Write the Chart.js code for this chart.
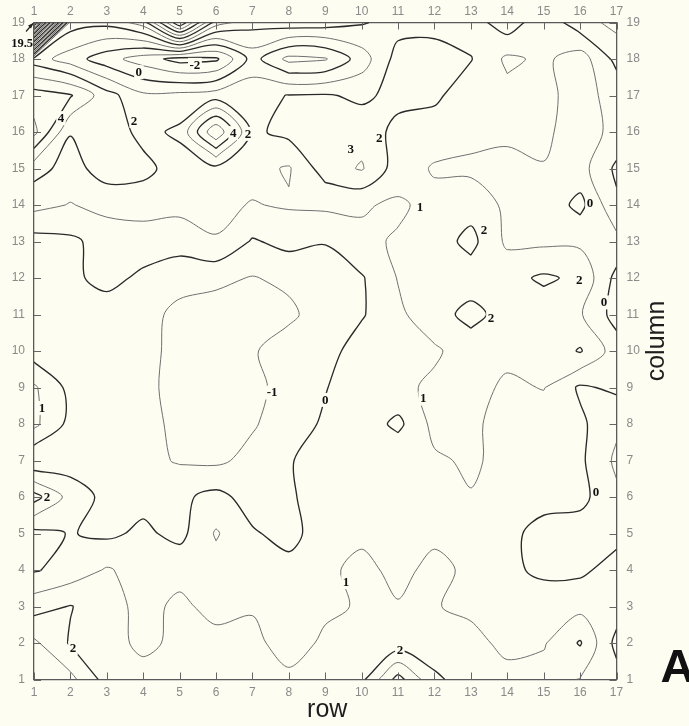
<!DOCTYPE html>
<html>
<head>
<meta charset="utf-8">
<script src="https://cdn.jsdelivr.net/npm/chart.js@4.4.1/dist/chart.umd.min.js"></script>
<style>
  html, body { margin: 0; padding: 0; background: #fefdf2; }
  #wrap { width: 689px; height: 726px; position: relative; }
  canvas { display: block; }
</style>
</head>
<body>
<div id="wrap"><canvas id="chart" width="689" height="726"></canvas></div>
<script>
// Sampling grid: rows run along x, columns along y.
const rows = [1, 2, 3, 4, 5, 6, 7, 8, 9, 10, 11, 12, 13, 14, 15, 16, 17];
const columns = [1, 2, 3, 4, 5, 6, 7, 8, 9, 10, 11, 12, 13, 14, 15, 16, 17, 18, 19];

// Measured field, one array per column, values for rows 1..17.
const col1  = [3.8, 3.3, 1.6, 1.5, 1.5, 1.4, 1.4, 1.25, 1.4, 1.75, 4.4, 2.2, 1.5, 1.3, 1.4, 0.95, 0.4];
const col2  = [3.2, 1.9, 1.5, 0.7, 1.3, 1.3, 1.3, 0.5, 1.2, 1.4, 1.4, 1.4, 1.3, 0.75, 0.9, 2.1, -0.3];
const col3  = [1.6, 2.05, 1.4, 0.7, 1.2, 0.7, 0.9, 0.4, 0.8, 1.1, 1.1, 1.05, 0.8, 0.6, 0.8, 0.7, 0.5];
const col4  = [-0.1, 0.4, 1.1, 0.6, 0.7, 0.6, 0.6, 0.3, 0.7, 1.4, 0.6, 1.4, 0.7, 0.3, -0.3, -0.2, 0.4];
const col5  = [-0.3, 0.05, -0.2, 0.2, -0.3, 1.1, 0.1, -0.3, 0.5, 0.7, 0.6, 0.7, 0.6, 0.3, -0.4, -0.5, -0.3];
const col6  = [2.4, 0.6, -0.3, -0.3, -0.2, 0.3, -0.4, -0.2, 0.7, 0.6, 0.7, 0.7, 0.95, 0.6, 0.4, 0.3, -0.8];
const col7  = [-0.9, -0.5, -0.6, -0.7, -1.1, -1.2, -0.7, -0.1, 0.6, 0.7, 0.8, 0.85, 1.15, 0.7, 0.5, 0.2, -1.2];
const col8  = [1.25, -0.3, -0.6, -0.6, -1.3, -1.05, -1.1, -0.5, 0.15, 0.6, -0.25, 1.3, 1.2, 0.6, 0.4, 0.2, -0.8];
const col9  = [1.15, -0.3, -0.6, -0.7, -1.4, -1.5, -1.5, -0.3, -0.05, 0.6, 0.75, 1.2, 1.4, 0.8, 1.05, -0.15, 0.2];
const col10 = [-0.5, -0.4, -0.5, -0.6, -1.4, -1.5, -1.1, -0.5, -0.4, 0.5, 0.6, 0.85, 1.5, 1.3, 1.2, 2.1, 0.5];
const col11 = [-0.5, -0.5, -0.5, -0.6, -1.3, -1.4, -1.3, -1.2, -0.5, -0.1, 0.8, 1.6, 2.3, 1.6, 1.5, 1.1, -0.4];
const col12 = [-0.4, -0.2, 0.3, -0.2, -0.6, -0.8, -1.05, -0.8, -0.5, -0.1, 1.05, 1.4, 1.5, 1.7, 2.15, 1.8, -0.3];
const col13 = [-0.4, -0.2, 0.4, 0.5, 0.4, 0.95, -0.1, 0.3, 0.05, 0.8, 1.1, 1.5, 2.3, 0.8, 0.8, 0.8, 0.7];
const col14 = [1.3, 0.95, 1.3, 1.4, 1.3, 1.2, 0.95, 1.1, 1.2, 1.1, 0.85, 1.3, 1.6, 0.8, 0.7, -0.3, 1.8];
const col15 = [2.4, 1.6, 2.5, 2.3, 1.5, 1.7, 1.3, 0.9, 2.5, 3.1, 1.5, 0.9, 0.8, 0.7, 0.95, 0.6, 2.2];
const col16 = [5.3, 2.05, 2.6, 1.7, 2.2, 5.9, 1.8, 2.3, 2.4, 2.6, 1.7, 1.5, 1.3, 1.2, 1.2, 0.5, 1.3];
const col17 = [4.5, 4.1, 2.4, 1.2, 1.3, 1.5, 1.6, 2.05, 2.1, 1.8, 2.3, 2.2, 1.4, 1.3, 1.2, 0.7, 1.3];
const col18 = [1.5, 0.5, -0.6, -1.5, -2.4, -2.2, 0.4, -1.3, -1.1, 0.5, 2.4, 2.5, 2.05, 0.8, 1.2, 0.5, 2.3];
const col19 = [19.5, 2.5, 2.3, 3.5, 9.0, 3.5, 2.4, 2.6, 2.5, 2.1, 1.6, 1.6, 1.5, 2.6, 1.3, 2.6, 3.3];

// Contour levels drawn, and where their values are written.
const levels = [-2, -1, 0, 1, 2, 3, 4, 5, 6, 7, 8, 9, 10, 11, 12, 13, 14, 15, 16, 17, 18, 19];
const labelSpots = [
  { level: 0,  row: 3.88,  column: 17.64 },
  { level: -2, row: 5.42,  column: 17.84 },
  { level: 4,  row: 1.74,  column: 16.38 },
  { level: 2,  row: 3.75,  column: 16.3 },
  { level: 4,  row: 6.47,  column: 15.97 },
  { level: 2,  row: 6.88,  column: 15.95 },
  { level: 3,  row: 9.7,   column: 15.52 },
  { level: 2,  row: 10.48, column: 15.82 },
  { level: 1,  row: 11.6,  column: 13.93 },
  { level: 2,  row: 13.36, column: 13.3 },
  { level: 0,  row: 16.27, column: 14.05 },
  { level: 2,  row: 15.98, column: 11.95 },
  { level: 0,  row: 16.66, column: 11.33 },
  { level: 2,  row: 13.55, column: 10.9 },
  { level: 1,  row: 1.22,  column: 8.44 },
  { level: -1, row: 7.54,  column: 8.86 },
  { level: 0,  row: 9.0,   column: 8.66 },
  { level: 1,  row: 11.69, column: 8.7 },
  { level: 0,  row: 16.44, column: 6.14 },
  { level: 2,  row: 1.36,  column: 6.0 },
  { level: 1,  row: 9.57,  column: 3.67 },
  { level: 2,  row: 2.07,  column: 1.86 },
  { level: 2,  row: 11.05, column: 1.8 }
];
const rowTicks = rows.map(String);
const columnTicks = columns.map(String);

const grid = [col1, col2, col3, col4, col5, col6, col7, col8, col9, col10,
              col11, col12, col13, col14, col15, col16, col17, col18, col19];

// Marching squares: crossing points are keyed by grid edge so segments can be chained.
function contourPolylines(level) {
  const pts = {};
  const segs = [];
  const nx = rows.length, ny = columns.length;
  for (let j = 0; j < ny - 1; j++) {
    for (let i = 0; i < nx - 1; i++) {
      const a = grid[j][i], b = grid[j][i + 1], c = grid[j + 1][i + 1], d = grid[j + 1][i];
      const idx = (a >= level ? 1 : 0) | (b >= level ? 2 : 0) | (c >= level ? 4 : 0) | (d >= level ? 8 : 0);
      if (idx === 0 || idx === 15) continue;
      const E = {
        B: () => { const k = 'h' + i + '_' + j; pts[k] = { x: rows[i] + (level - a) / (b - a), y: columns[j] }; return k; },
        T: () => { const k = 'h' + i + '_' + (j + 1); pts[k] = { x: rows[i] + (level - d) / (c - d), y: columns[j + 1] }; return k; },
        L: () => { const k = 'v' + i + '_' + j; pts[k] = { x: rows[i], y: columns[j] + (level - a) / (d - a) }; return k; },
        R: () => { const k = 'v' + (i + 1) + '_' + j; pts[k] = { x: rows[i + 1], y: columns[j] + (level - b) / (c - b) }; return k; }
      };
      const add = (p, q) => segs.push([E[p](), E[q]()]);
      const centre = (a + b + c + d) / 4;
      switch (idx) {
        case 1: case 14: add('L', 'B'); break;
        case 2: case 13: add('B', 'R'); break;
        case 3: case 12: add('L', 'R'); break;
        case 4: case 11: add('R', 'T'); break;
        case 6: case 9: add('B', 'T'); break;
        case 7: case 8: add('L', 'T'); break;
        case 5:
          if (centre >= level) { add('B', 'R'); add('L', 'T'); } else { add('L', 'B'); add('R', 'T'); }
          break;
        case 10:
          if (centre >= level) { add('L', 'B'); add('R', 'T'); } else { add('B', 'R'); add('L', 'T'); }
          break;
      }
    }
  }
  // chain segments sharing a crossing
  const byKey = {};
  segs.forEach((s, n) => { s.forEach(k => { (byKey[k] = byKey[k] || []).push(n); }); });
  const used = new Array(segs.length).fill(false);
  const lines = [];
  const nextFrom = (k) => (byKey[k] || []).find(n => !used[n]);
  for (let n = 0; n < segs.length; n++) {
    if (used[n]) continue;
    used[n] = true;
    const chain = [segs[n][0], segs[n][1]];
    let m;
    while ((m = nextFrom(chain[chain.length - 1])) !== undefined) {
      used[m] = true;
      const s = segs[m];
      chain.push(s[0] === chain[chain.length - 1] ? s[1] : s[0]);
    }
    while ((m = nextFrom(chain[0])) !== undefined) {
      used[m] = true;
      const s = segs[m];
      chain.unshift(s[0] === chain[0] ? s[1] : s[0]);
    }
    lines.push(chain.map(k => ({ x: pts[k].x, y: pts[k].y })));
  }
  return lines;
}

const datasets = [];
levels.forEach(level => {
  const even = Math.abs(level) % 2 === 0;
  contourPolylines(level).forEach(line => {
    datasets.push({
      data: line,
      showLine: true,
      pointRadius: 0,
      borderColor: even ? '#2a2a2a' : '#707070',
      borderWidth: even ? 1.35 : 1,
      tension: 0.3,
      fill: false
    });
  });
});

const PAPER = '#fefdf2';
const TICK_GREY = '#8a8a8a';

const paperPlugin = {
  id: 'paper',
  beforeDraw(chart) {
    const { ctx, width, height } = chart;
    ctx.save();
    ctx.fillStyle = PAPER;
    ctx.fillRect(0, 0, width, height);
    ctx.restore();
  }
};

const decorPlugin = {
  id: 'decor',
  afterDatasetsDraw(chart) {
    const { ctx, chartArea: ca, scales } = chart;
    const xs = scales.x, ys = scales.y;
    ctx.save();
    // inward tick marks on all four sides
    ctx.strokeStyle = '#666';
    ctx.lineWidth = 1;
    ctx.beginPath();
    rows.forEach(r => {
      const px = Math.round(xs.getPixelForValue(r)) + 0.5;
      ctx.moveTo(px, ca.bottom); ctx.lineTo(px, ca.bottom - 7);
      ctx.moveTo(px, ca.top); ctx.lineTo(px, ca.top + 7);
    });
    columns.forEach(c => {
      const py = Math.round(ys.getPixelForValue(c)) + 0.5;
      ctx.moveTo(ca.left, py); ctx.lineTo(ca.left + 7, py);
      ctx.moveTo(ca.right, py); ctx.lineTo(ca.right - 7, py);
    });
    ctx.stroke();

    // contour values written on their lines
    ctx.font = 'bold 13px "Liberation Serif", "DejaVu Serif", serif';
    ctx.textAlign = 'center';
    ctx.textBaseline = 'middle';
    labelSpots.forEach(s => {
      const txt = String(s.level);
      const px = xs.getPixelForValue(s.row), py = ys.getPixelForValue(s.column);
      const w = ctx.measureText(txt).width;
      ctx.fillStyle = PAPER;
      ctx.fillRect(px - w / 2 - 1.5, py - 7, w + 3, 14);
      ctx.fillStyle = '#111';
      ctx.fillText(txt, px, py + 0.5);
    });

    // peak value at the top-left corner with its pointer
    const peak = col19[0];
    const cx = xs.getPixelForValue(rows[0]), cy = ys.getPixelForValue(columns[columns.length - 1]);
    ctx.font = 'bold 12.5px "Liberation Serif", "DejaVu Serif", serif';
    ctx.textAlign = 'right';
    ctx.fillStyle = '#111';
    ctx.fillText(String(peak), cx - 1, cy + 21);
    ctx.strokeStyle = '#222';
    ctx.lineWidth = 1.2;
    ctx.beginPath();
    ctx.moveTo(cx - 8, cy + 9);
    ctx.lineTo(cx - 1, cy + 1);
    ctx.stroke();
    ctx.beginPath();
    ctx.moveTo(cx - 0.5, cy + 0.5);
    ctx.lineTo(cx - 6, cy + 3);
    ctx.lineTo(cx - 3, cy + 6);
    ctx.closePath();
    ctx.fillStyle = '#222';
    ctx.fill();

    // axis names and panel letter
    ctx.fillStyle = '#1e1e1e';
    ctx.font = '25px "Liberation Sans", Arial, sans-serif';
    ctx.textAlign = 'center';
    ctx.textBaseline = 'middle';
    ctx.fillText('row', (ca.left + ca.right) / 2 + 2, ca.bottom + 31);
    ctx.save();
    ctx.translate(ca.right + 41, (ca.top + ca.bottom) / 2 - 10);
    ctx.rotate(-Math.PI / 2);
    ctx.fillText('column', 0, 0);
    ctx.restore();
    ctx.font = 'bold 47px "Liberation Sans", Arial, sans-serif';
    ctx.textAlign = 'left';
    ctx.textBaseline = 'alphabetic';
    ctx.fillStyle = '#111';
    ctx.fillText('A', ca.right + 44, ca.bottom + 2.5);
    ctx.restore();
  }
};

const tickFont = { family: '"Liberation Sans", Arial, sans-serif', size: 12 };
const axisBase = {
  type: 'linear',
  grid: { display: false, drawTicks: false },
  border: { display: true, color: '#5a5a5a', width: 1.3 }
};

new Chart(document.getElementById('chart'), {
  type: 'scatter',
  data: { datasets },
  options: {
    responsive: false,
    animation: false,
    events: [],
    layout: { padding: 0 },
    plugins: { legend: { display: false }, tooltip: { enabled: false } },
    scales: {
      x: Object.assign({}, axisBase, {
        position: 'bottom', min: 1, max: 17,
        ticks: { stepSize: 1, autoSkip: false, maxRotation: 0, padding: 6, color: TICK_GREY, font: tickFont,
                 callback: (v) => rowTicks[rows.indexOf(v)] },
        afterFit: (s) => { s.height = 46.5; }
      }),
      x2: Object.assign({}, axisBase, {
        position: 'top', min: 1, max: 17,
        ticks: { stepSize: 1, autoSkip: false, maxRotation: 0, padding: 4, color: TICK_GREY, font: tickFont,
                 callback: (v) => rowTicks[rows.indexOf(v)] },
        afterFit: (s) => { s.height = 22.5; }
      }),
      y: Object.assign({}, axisBase, {
        position: 'left', min: 1, max: 19,
        ticks: { stepSize: 1, autoSkip: false, padding: 9, color: TICK_GREY, font: tickFont,
                 callback: (v) => columnTicks[columns.indexOf(v)] },
        afterFit: (s) => { s.width = 34; }
      }),
      y2: Object.assign({}, axisBase, {
        position: 'right', min: 1, max: 19,
        ticks: { stepSize: 1, autoSkip: false, padding: 10, color: TICK_GREY, font: tickFont,
                 callback: (v) => columnTicks[columns.indexOf(v)] },
        afterFit: (s) => { s.width = 72.5; }
      })
    }
  },
  plugins: [paperPlugin, decorPlugin]
});
</script>
</body>
</html>
